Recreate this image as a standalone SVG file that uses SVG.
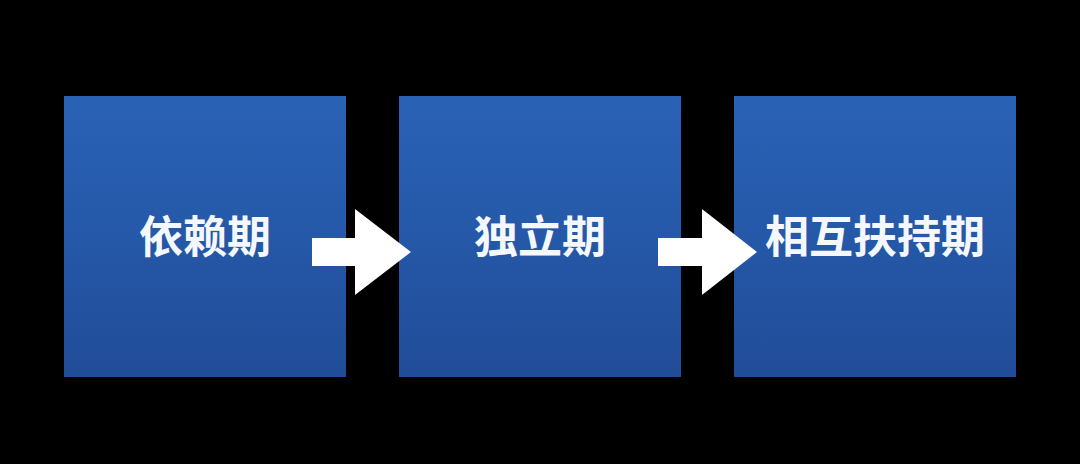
<svg xmlns="http://www.w3.org/2000/svg" width="1080" height="464" viewBox="0 0 1080 464">
  <defs>
    <linearGradient id="boxGrad" x1="0" y1="0" x2="0" y2="1">
      <stop offset="0" stop-color="#2a62b6"/>
      <stop offset="0.5" stop-color="#2558a8"/>
      <stop offset="1" stop-color="#214c98"/>
    </linearGradient>
    <style>
      .box { fill: url(#boxGrad); }
      .label { fill: #f4f7fb; font-family: "Noto Sans CJK SC", "Noto Sans", sans-serif; font-weight: bold; font-size: 44px; text-anchor: middle; }
      .arrow { fill: #ffffff; }
    </style>
  </defs>
  <rect width="1080" height="464" fill="#000000"/>
  <g id="node-dependence">
    <rect class="box" x="64" y="96" width="282" height="281"/>
    <text class="label" x="205" y="253">依赖期</text>
  </g>
  <g id="node-independence">
    <rect class="box" x="399" y="96" width="282" height="281"/>
    <text class="label" x="540" y="253">独立期</text>
  </g>
  <g id="node-interdependence">
    <rect class="box" x="734" y="96" width="282" height="281"/>
    <text class="label" x="875" y="253">相互扶持期</text>
  </g>
  <g id="connectors">
    <polygon class="arrow" points="312,238 355,238 355,209 411,252 355,295 355,266 312,266"/>
    <polygon class="arrow" points="658,238 702,238 702,209 757,252 702,295 702,266 658,266"/>
  </g>
</svg>
